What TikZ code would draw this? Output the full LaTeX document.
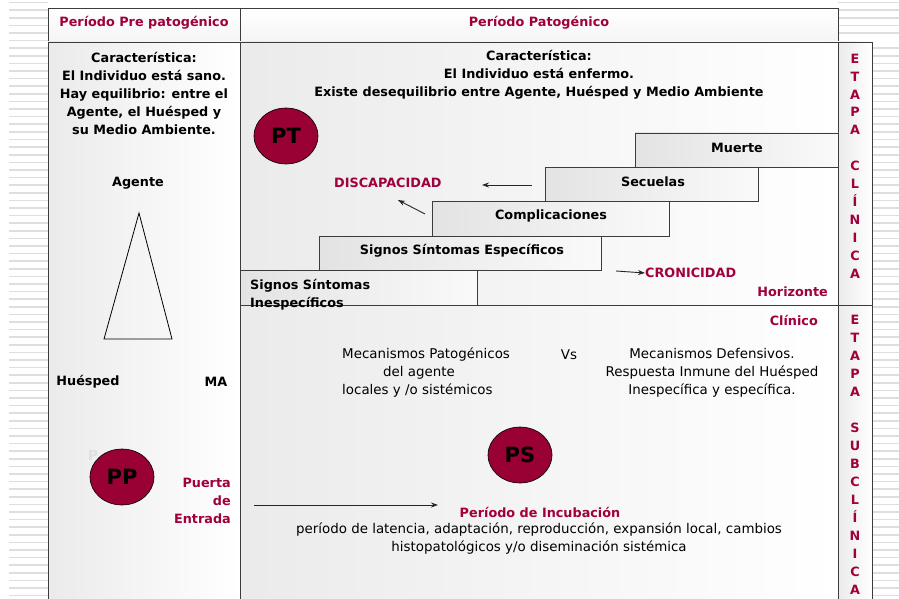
\documentclass[tikz,border=0pt]{standalone}
\usepackage{fontspec}
\setmainfont{DejaVu Sans}
\usetikzlibrary{arrows.meta,shapes.geometric}
\definecolor{crim}{RGB}{160,0,60}
\definecolor{disk}{RGB}{153,0,51}
\definecolor{framec}{RGB}{60,60,60}
\tikzset{
  panel/.style={draw=framec, line width=0.8pt, left color=black!8, right color=white},
  headcell/.style={draw=framec, line width=0.8pt, top color=white, bottom color=black!4},
  stepbox/.style={draw=framec, line width=0.8pt, left color=black!11, right color=black!2},
  btxt/.style={font=\fontsize{12.8}{18}\selectfont\bfseries, text=black, inner sep=0pt},
  rtxt/.style={font=\fontsize{13.4}{18}\selectfont, text=black, inner sep=0pt},
  ctxt/.style={font=\fontsize{12.8}{18}\selectfont\bfseries, text=crim, inner sep=0pt},
  disc/.style={ellipse, fill=disk, draw=black, line width=0.6pt, minimum width=64pt, minimum height=56pt, inner sep=0pt, font=\fontsize{21}{22}\selectfont\bfseries},
  arr/.style={-{Stealth[length=7pt,width=5pt]}, line width=0.9pt, draw=black!85},
  stripe/.style={draw=black!13, line width=1.6pt}
}
\begin{document}
\begin{tikzpicture}[x=1pt,y=-1pt]
\useasboundingbox (0,0) rectangle (899,599);
\clip (0,0) rectangle (899,599);
% background stripes
\foreach \yy in {2.7,10.3,...,599} {
  \draw[stripe] (9,\yy) -- (48,\yy);
}
\foreach \yy in {2.7,10.3,...,40} {
  \draw[stripe] (838,\yy) -- (899,\yy);
}
\foreach \yy in {48.3,55.9,...,599} {
  \draw[stripe] (872,\yy) -- (899,\yy);
}
% panels
\draw[headcell] (48,8) rectangle (240,42);
\draw[headcell] (240,8) rectangle (838,42);
\draw[panel] (48,42) rectangle (240,610);
\draw[panel] (240,42) rectangle (838,305);
\draw[panel] (240,305) rectangle (838,610);
\draw[panel] (838,42) rectangle (872,305);
\draw[panel] (838,305) rectangle (872,610);
% steps
\draw[stepbox] (635,133) rectangle (838,167);
\draw[stepbox] (545,167) rectangle (758,201);
\draw[stepbox] (432,201) rectangle (669,236);
\draw[stepbox] (319,236) rectangle (601,270);
\draw[stepbox] (240,270) rectangle (477,305);
\node[btxt] (muerte) at (737,148) {Muerte};
\node[btxt] (secuelas) at (653,182) {Secuelas};
\node[btxt] (compl) at (551,216) {Complicaciones};
\node[btxt] (especif) at (462,251) {Signos Síntomas Específicos};
\node[btxt, align=left, anchor=west] (inesp) at (250,295) {Signos Síntomas\\Inespecíficos};
% headers
\node[ctxt] (hpre) at (144,23) {Período Pre patogénico};
\node[ctxt] (hpat) at (539,23) {Período Patogénico};
% characteristic texts
\node[btxt, align=center] (pretxt) at (144,93) {Característica:\\El Individuo está sano.\\Hay equilibrio: entre el\\Agente, el Huésped y\\su Medio Ambiente.};
\node[btxt, align=center] (pattxt) at (539,75) {Característica:\\El Individuo está enfermo.\\Existe desequilibrio entre Agente, Huésped y Medio Ambiente};
% triad
\node[btxt] (agente) at (138,183) {Agente};
\node[btxt] (huesped) at (88,382) {Huésped};
\node[btxt] (ma) at (216,382) {MA};
\coordinate (tapex) at (139,213);
\coordinate (tbl) at (104,339);
\coordinate (tbr) at (172,339);
\draw[line width=0.8pt] (tapex) -- (tbl) -- (tbr) -- cycle;
% discs
\node[font=\fontsize{14}{15}\selectfont\bfseries, text=black!12] (ghost) at (93,455) {P};
\node[disc] (pt) at (286,136) {PT};
\node[disc] (pp) at (122,477) {PP};
\node[disc] (ps) at (520,455) {PS};
\node[ctxt, align=right, anchor=east] (puerta) at (231,501) {Puerta\\de\\Entrada};
% outcomes
\node[ctxt, anchor=west] (discap) at (334,183) {DISCAPACIDAD};
\node[ctxt, anchor=west] (cronic) at (645,273) {CRONICIDAD};
\node[ctxt, anchor=east] (horiz) at (828,292) {Horizonte};
\node[ctxt, anchor=east] (clinico) at (818,320) {Clínico};
\coordinate (a1s) at (532,185);
\coordinate (a1e) at (482,185);
\draw[arr] (a1s) -- (a1e);
\coordinate (a2s) at (425,214);
\coordinate (a2e) at (398,200);
\draw[arr] (a2s) -- (a2e);
\coordinate (a3s) at (616,271);
\draw[arr] (a3s) -- (cronic.west);
% mechanisms
\node[rtxt, anchor=west] (mp1) at (342,355) {Mecanismos Patogénicos};
\node[rtxt, anchor=west] (mp2) at (383,373) {del agente};
\node[rtxt, anchor=west] (mp3) at (342,391) {locales y /o sistémicos};
\node[rtxt] (vs) at (569,355) {Vs};
\node[rtxt, align=center] (md) at (712,373) {Mecanismos Defensivos.\\Respuesta Inmune del Huésped\\Inespecífica y específica.};
% incubation
\coordinate (a4s) at (254,505);
\coordinate (a4e) at (438,505);
\draw[arr] (a4s) -- (a4e);
\node[ctxt] (incub) at (540,512) {Período de Incubación};
\node[rtxt, align=center] (incubtxt) at (539,539) {período de latencia, adaptación, reproducción, expansión local, cambios\\histopatológicos y/o diseminación sistémica};
% vertical labels
\node[ctxt, align=center, font=\fontsize{12.8}{17.9}\selectfont\bfseries] (etc) at (855,166) {E\\T\\A\\P\\A\\[17.9pt]C\\L\\Í\\N\\I\\C\\A};
\node[ctxt, align=center, font=\fontsize{12.8}{18}\selectfont\bfseries] (ets) at (855,455) {E\\T\\A\\P\\A\\[18pt]S\\U\\B\\C\\L\\Í\\N\\I\\C\\A};
\end{tikzpicture}
\end{document}
